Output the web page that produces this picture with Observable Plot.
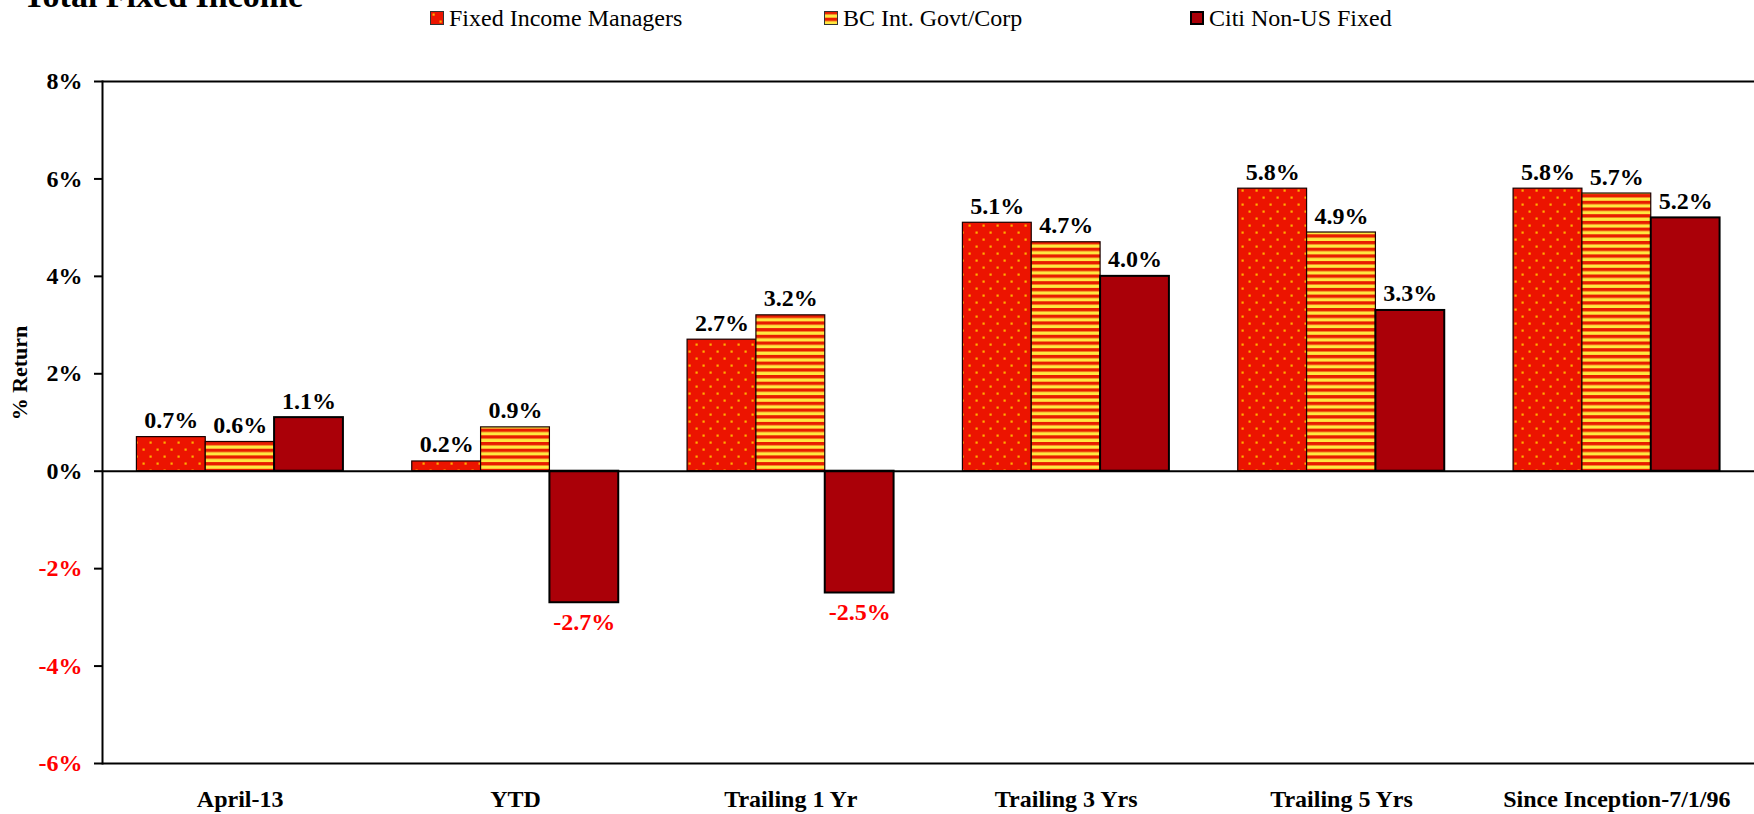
<!DOCTYPE html>
<html>
<head>
<meta charset="utf-8">
<script src="https://cdn.jsdelivr.net/npm/d3@7"></script>
<script src="https://cdn.jsdelivr.net/npm/@observablehq/plot@0.6"></script>
<style>
  html, body { margin: 0; padding: 0; background: #fff; }
  #page { position: relative; width: 1754px; height: 814px; overflow: hidden; font-family: "Liberation Serif", "Times New Roman", serif; }
  #header { position: relative; height: 40px; }
  #title { position: absolute; left: 23px; top: -21px; font-size: 34px; line-height: 33px; font-weight: bold; white-space: nowrap; }
  .leg { position: absolute; top: 6px; height: 24px; line-height: 24px; font-size: 24px; white-space: nowrap; display: flex; align-items: center; }
  .leg svg { width: 14px; height: 14px; margin-right: 5px; flex: none; }
  #ylabel { position: absolute; left: 20px; top: 373px; transform: translate(-50%, -50%) rotate(-90deg); font-size: 22px; font-weight: bold; white-space: nowrap; }
</style>
</head>
<body>
<svg width="0" height="0" style="position:absolute">
  <defs>
    <pattern id="dots" patternUnits="userSpaceOnUse" width="14" height="14">
      <rect width="14" height="14" fill="#EC1400"></rect>
      <rect x="2.5" y="2.5" width="2.2" height="2.2" fill="#FFB000"></rect>
      <rect x="9.5" y="9.5" width="2.2" height="2.2" fill="#FFB000"></rect>
    </pattern>
    <pattern id="stripes" patternUnits="userSpaceOnUse" width="10" height="6.7">
      <rect width="10" height="6.7" fill="#E81C00"></rect>
      <rect y="3.35" width="10" height="3.35" fill="#FFE840"></rect>
    </pattern>
  </defs>
</svg>
<div id="page">
  <div id="header">
    <div id="title">Total Fixed Income</div>
    <div id="legend"></div>
  </div>
  <div id="chart"></div>
  <div id="ylabel">% Return</div>
</div>
<script>
const categories = ["April-13", "YTD", "Trailing 1 Yr", "Trailing 3 Yrs", "Trailing 5 Yrs", "Since Inception-7/1/96"];
const seriesNames = ["Fixed Income Managers", "BC Int. Govt/Corp", "Citi Non-US Fixed"];
const fixedIncomeManagers = [0.7, 0.2, 2.7, 5.1, 5.8, 5.8];
const bcIntGovtCorp = [0.6, 0.9, 3.2, 4.7, 4.9, 5.7];
const citiNonUSFixed = [1.1, -2.7, -2.5, 4.0, 3.3, 5.2];
const yTicks = [-6, -4, -2, 0, 2, 4, 6, 8];

const seriesValues = [fixedIncomeManagers, bcIntGovtCorp, citiNonUSFixed];
const seriesFill = ["url(#dots)", "url(#stripes)", "#AA0008"];
const seriesStroke = ["#1a0000", "#1a0000", "#000"];
const seriesStrokeWidth = [1.2, 1.2, 2];

const key = (c, s) => c + "|" + s;
const rows = [];
categories.forEach((c, i) => {
  seriesNames.forEach((s, j) => {
    rows.push({category: c, series: s, key: key(c, s), value: seriesValues[j][i]});
  });
});

// x domain: three bars per category with a one-bar gap between groups
const xDomain = [];
categories.forEach((c, i) => {
  seriesNames.forEach(s => xDomain.push(key(c, s)));
  if (i < categories.length - 1) xDomain.push("gap" + i);
});
const middleKeys = categories.map(c => key(c, seriesNames[1]));
const catOfKey = new Map(categories.map(c => [key(c, seriesNames[1]), c]));

const fmt = v => v.toFixed(1) + "%";

const barMarks = seriesNames.map((s, j) =>
  Plot.barY(rows.filter(r => r.series === s), {
    x: "key", y: "value",
    fill: seriesFill[j], stroke: seriesStroke[j], strokeWidth: seriesStrokeWidth[j]
  })
);

const chart = Plot.plot({
  width: 1754,
  height: 774,
  marginTop: 41,
  marginBottom: 51,
  marginLeft: 102,
  marginRight: 0,
  style: {fontFamily: "Liberation Serif, Times New Roman, serif", fontSize: "24px", fontWeight: "bold", background: "white", color: "black", overflow: "visible"},
  x: {domain: xDomain, padding: 0, paddingOuter: 0.5, round: false, axis: null},
  y: {domain: [-6, 8], axis: null},
  marks: [
    ...barMarks,
    Plot.ruleY([0], {stroke: "#000", strokeWidth: 2}),
    Plot.ruleY([-6, 8], {stroke: "#000", strokeWidth: 2}),
    Plot.frame({anchor: "left", stroke: "#000", strokeWidth: 2}),
    Plot.axisY(yTicks.filter(t => t >= 0), {tickFormat: d => d + "%", tickSize: 8, tickPadding: 12, strokeWidth: 2, label: null, fontSize: 24, fontWeight: "bold", fill: "#000"}),
    Plot.axisY(yTicks.filter(t => t < 0), {tickFormat: d => d + "%", tickSize: 8, tickPadding: 12, strokeWidth: 2, label: null, fontSize: 24, fontWeight: "bold", fill: "#FF0000"}),
    Plot.axisX(middleKeys, {tickFormat: k => catOfKey.get(k), tickSize: 0, tickPadding: 26, label: null, fontSize: 24, fontWeight: "bold", fill: "#000"}),
    Plot.text(rows.filter(r => r.value >= 0), {x: "key", y: "value", text: d => fmt(d.value), lineAnchor: "bottom", dy: -9, fontSize: 24, fontWeight: "bold", fill: "#000"}),
    Plot.text(rows.filter(r => r.value < 0), {x: "key", y: "value", text: d => fmt(d.value), lineAnchor: "top", dy: 10, fontSize: 24, fontWeight: "bold", fill: "#FF0000"})
  ]
});
document.getElementById("chart").appendChild(chart);

// legend
const legendLeft = [430, 824, 1190];
const legendSwatch = [
  '<rect x="0.5" y="0.5" width="13" height="13" fill="url(#dots)" stroke="#333" stroke-width="1"></rect>',
  '<rect x="0.5" y="0.5" width="13" height="13" fill="url(#stripes)" stroke="#333" stroke-width="1"></rect>',
  '<rect x="1" y="1" width="12" height="12" fill="#AA0008" stroke="#000" stroke-width="2"></rect>'
];
const legend = document.getElementById("legend");
seriesNames.forEach((s, j) => {
  const item = document.createElement("div");
  item.className = "leg";
  item.style.left = legendLeft[j] + "px";
  item.innerHTML = '<svg viewBox="0 0 14 14">' + legendSwatch[j] + '</svg><span></span>';
  item.querySelector("span").textContent = s;
  legend.appendChild(item);
});
</script>
</body>
</html>
